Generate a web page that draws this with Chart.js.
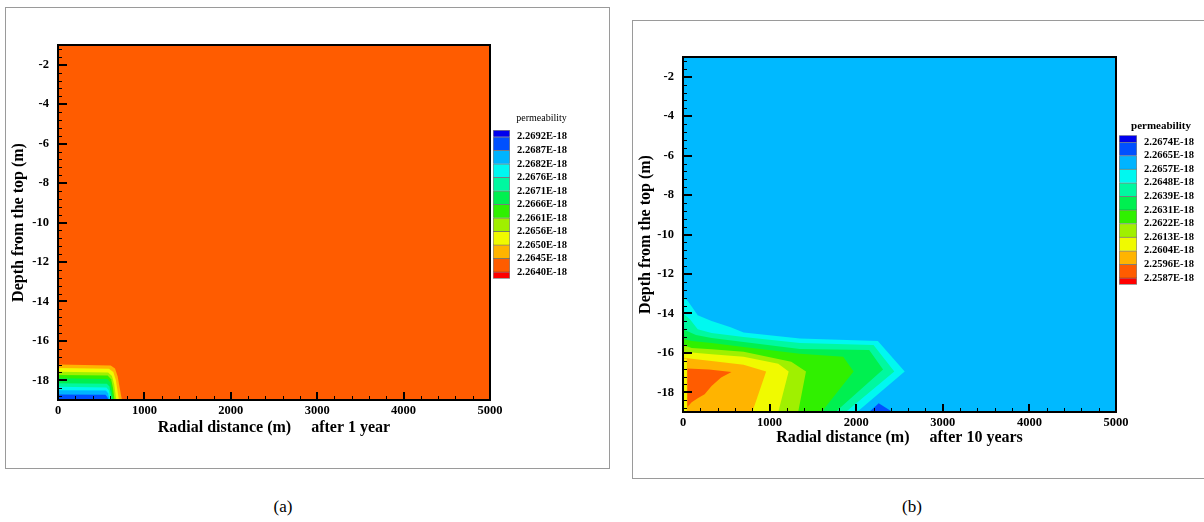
<!DOCTYPE html>
<html>
<head>
<meta charset="utf-8">
<script src="https://cdn.jsdelivr.net/npm/chart.js@4.4.1/dist/chart.umd.min.js"></script>
<style>
  body { margin: 0; width: 1204px; height: 522px; overflow: hidden; position: relative; background: #fff; font-family: "Liberation Serif", serif; }
  .box { position: absolute; border: 1px solid #9a9a9a; }
  .cv { position: absolute; }
  .cap { position: absolute; top: 497px; font-size: 17px; line-height: 20px; transform: translateX(-50%); color: #000; }
</style>
</head>
<body>
<div class="box" style="left:5px;top:7px;width:603px;height:460px"></div>
<div class="box" style="left:632px;top:20px;width:580px;height:457px"></div>
<canvas id="plotA" class="cv" width="504" height="432" style="left:6px;top:8px"></canvas>
<canvas id="barA" class="cv" width="97" height="180" style="left:493px;top:112px"></canvas>
<canvas id="plotB" class="cv" width="503" height="431" style="left:633px;top:21px"></canvas>
<canvas id="barB" class="cv" width="84" height="178" style="left:1119px;top:120px"></canvas>
<div class="cap" style="left:283px">(a)</div>
<div class="cap" style="left:912px">(b)</div>
<script>
// axes
const xRange = [0, 5000];
const yRange = [-19, -1];
const xTicks = [0, 1000, 2000, 3000, 4000, 5000];
const yTicks = [-2, -4, -6, -8, -10, -12, -14, -16, -18];

// colour legend (top to bottom)
const levelsA = ["2.2692E-18", "2.2687E-18", "2.2682E-18", "2.2676E-18", "2.2671E-18", "2.2666E-18",
                 "2.2661E-18", "2.2656E-18", "2.2650E-18", "2.2645E-18", "2.2640E-18"];
const levelsB = ["2.2674E-18", "2.2665E-18", "2.2657E-18", "2.2648E-18", "2.2639E-18", "2.2631E-18",
                 "2.2622E-18", "2.2613E-18", "2.2604E-18", "2.2596E-18", "2.2587E-18"];
const palette = ["#0000EE", "#0050FF", "#00B4FF", "#00F8F0", "#00F8A0", "#00F050",
                 "#30F000", "#A0F000", "#F0FA00", "#FFB400", "#FF5C00", "#FF0000"];

// contour regions, [radial distance, depth]
// (a) after 1 year
const regionA0 = [[0, -1], [5000, -1], [5000, -19], [0, -19]];
const regionA1 = [[0, -19], [0, -17.2], [610, -17.25], [660, -17.4], [690, -17.8], [740, -19]];
const regionA2 = [[0, -19], [0, -17.38], [590, -17.42], [640, -17.58], [670, -18.0], [705, -19]];
const regionA3 = [[0, -19], [0, -17.57], [580, -17.6], [625, -17.78], [650, -18.2], [675, -19]];
const regionA4 = [[0, -19], [0, -17.73], [575, -17.76], [615, -17.95], [635, -18.35], [655, -19]];
const regionA5 = [[0, -19], [0, -17.9], [570, -17.93], [605, -18.1], [622, -18.5], [638, -19]];
const regionA6 = [[0, -19], [0, -18.15], [565, -18.18], [595, -18.32], [610, -18.65], [622, -19]];
const regionA7 = [[0, -19], [0, -18.33], [560, -18.36], [588, -18.5], [600, -18.8], [610, -19]];
const regionA8 = [[0, -19], [0, -18.5], [555, -18.52], [580, -18.66], [598, -19]];
const regionA9 = [[0, -19], [0, -18.72], [550, -18.74], [570, -18.85], [585, -19]];
const regionsA = [regionA0, regionA1, regionA2, regionA3, regionA4, regionA5, regionA6, regionA7, regionA8, regionA9];
const colorsA = ["#FF5C00", "#FFB400", "#F0FA00", "#A0F000", "#30F000", "#00F050", "#00F8A0", "#00F8F0", "#00B4FF", "#0050FF"];

// (b) after 10 years
const regionB0 = [[0, -1], [5000, -1], [5000, -19], [0, -19]];
const regionB1 = [[0, -19], [2010, -19], [2560, -16.95], [2250, -15.4], [1350, -15.27], [700, -14.97], [550, -14.7],
                  [330, -14.38], [170, -14.1], [60, -13.4], [0, -13.1]];
const regionB2 = [[0, -19], [1880, -19], [2440, -16.95], [2200, -15.6], [1350, -15.5], [700, -15.2], [330, -15.0],
                  [170, -14.8], [80, -14.3], [0, -14.0]];
const regionB3 = [[0, -19], [1760, -19], [2310, -16.85], [2150, -15.85], [1350, -15.8], [700, -15.45], [330, -15.25],
                  [150, -15.1], [0, -14.8]];
const regionB4 = [[0, -19], [1600, -19], [1970, -16.95], [1850, -16.2], [1350, -16.05], [700, -15.7], [330, -15.5],
                  [100, -15.4], [0, -15.3]];
const regionB5 = [[0, -19], [1330, -19], [1420, -16.95], [1250, -16.45], [700, -15.95], [330, -15.82], [100, -15.75], [0, -15.6]];
const regionB6 = [[0, -19], [1100, -19], [1220, -16.95], [1100, -16.55], [700, -16.2], [330, -16.07], [0, -15.95]];
const regionB7 = [[0, -19], [800, -19], [960, -16.95], [700, -16.6], [330, -16.41], [100, -16.3], [0, -16.25]];
const regionB8 = [[0, -19], [45, -19], [45, -16.3], [0, -16.3]];
const regionB9 = [[50, -18.75], [100, -18.5], [170, -18.3], [250, -18.1], [330, -17.68], [440, -17.25], [560, -16.97],
                  [300, -16.85], [50, -16.8]];
const regionB10 = [[2150, -19], [2260, -18.55], [2420, -19]];
const regionsB = [regionB0, regionB1, regionB2, regionB3, regionB4, regionB5, regionB6, regionB7, regionB8, regionB9, regionB10];
const colorsB = ["#00B9FF", "#00F8F0", "#00F8A0", "#00F050", "#30F000", "#A0F000", "#F0FA00", "#FFB400", "#F0FA00", "#FF5C00", "#0050FF"];

const serif = "'Liberation Serif', 'Times New Roman', serif";
Chart.defaults.font.family = serif;
Chart.defaults.color = "#000";

// frame plus inward major/minor ticks
const frameTicks = {
  id: "frameTicks",
  afterDatasetsDraw(chart, args, opts) {
    const { ctx, chartArea: a } = chart;
    const xs = chart.scales.x;
    const ys = chart.scales.y;
    ctx.save();
    ctx.strokeStyle = "#000";

    ctx.lineWidth = 1;
    ctx.beginPath();
    for (let k = 1; k * opts.xMinor < xs.max; k++) {
      const px = Math.round(xs.getPixelForValue(k * opts.xMinor)) + 0.5;
      ctx.moveTo(px, a.bottom);
      ctx.lineTo(px, a.bottom - 4);
    }
    for (let k = -10; k <= 60; k++) {
      const v = yTicks[0] - k * opts.yMinor;
      if (v <= ys.min + 1e-6 || v >= ys.max - 1e-6) continue;
      const py = Math.round(ys.getPixelForValue(v)) + 0.5;
      ctx.moveTo(a.left, py);
      ctx.lineTo(a.left + 4, py);
    }
    ctx.stroke();

    ctx.lineWidth = 2;
    ctx.beginPath();
    xTicks.forEach((v) => {
      if (v <= xs.min || v >= xs.max) return;
      const px = Math.round(xs.getPixelForValue(v));
      ctx.moveTo(px, a.bottom);
      ctx.lineTo(px, a.bottom - 8);
    });
    yTicks.forEach((v) => {
      const py = Math.round(ys.getPixelForValue(v));
      ctx.moveTo(a.left, py);
      ctx.lineTo(a.left + 9, py);
    });
    ctx.stroke();

    ctx.strokeRect(a.left, a.top, a.right - a.left, a.bottom - a.top);
    ctx.restore();
  }
};

function regionDatasets(regions, colors) {
  return regions.map((pts, i) => ({
    data: pts.map((p) => ({ x: p[0], y: p[1] })),
    backgroundColor: colors[i],
    borderWidth: 0,
    pointRadius: 0,
    fill: "shape",
    order: regions.length - i
  }));
}

function crearPanel(id, regions, colors, xTitle, yAxisWidth, padTop, xTitlePad) {
  const tickFont = { family: serif, size: 12.5, weight: "bold" };
  return new Chart(document.getElementById(id), {
    type: "line",
    data: { datasets: regionDatasets(regions, colors) },
    options: {
      responsive: false,
      animation: false,
      events: [],
      layout: { padding: { left: 0, top: padTop, right: 20, bottom: 0 } },
      plugins: {
        legend: { display: false },
        tooltip: { enabled: false },
        frameTicks: { xMinor: 200, yMinor: 0.4 }
      },
      scales: {
        x: {
          type: "linear",
          min: xRange[0],
          max: xRange[1],
          afterBuildTicks: (s) => { s.ticks = xTicks.map((v) => ({ value: v })); },
          afterFit: (s) => { s.height = 40; },
          grid: { display: false, drawTicks: false },
          border: { display: false },
          ticks: { padding: 3, font: tickFont, maxRotation: 0, autoSkip: false, callback: (v) => String(v) },
          title: {
            display: true,
            text: xTitle,
            font: { family: serif, size: 16, weight: "bold" },
            padding: { top: 0, bottom: xTitlePad }
          }
        },
        y: {
          type: "linear",
          min: yRange[0],
          max: yRange[1],
          afterBuildTicks: (s) => { s.ticks = yTicks.map((v) => ({ value: v })); },
          afterFit: (s) => { s.width = yAxisWidth; },
          grid: { display: false, drawTicks: false },
          border: { display: false },
          ticks: { padding: 9, font: tickFont, autoSkip: false, callback: (v) => String(v) },
          title: {
            display: true,
            text: "Depth from the top (m)",
            font: { family: serif, size: 16, weight: "bold" },
            padding: { top: 3, bottom: 0 }
          }
        }
      }
    },
    plugins: [frameTicks]
  });
}

function crearLeyenda(id, levels, titleFont, titlePad, axisWidth) {
  const n = levels.length;
  // half-height swatches at both ends so the labels sit on the boundaries
  const span = palette.map((_, i) => (i === 0 || i === palette.length - 1 ? 0.5 : 1));
  const bottomUp = palette.slice().reverse();
  return new Chart(document.getElementById(id), {
    type: "bar",
    data: {
      labels: [""],
      datasets: bottomUp.map((c, i) => ({
        data: [span[i]],
        backgroundColor: c,
        borderColor: "rgba(50,50,50,0.6)",
        borderWidth: { top: 1, left: 1, right: 1, bottom: i === 0 ? 1 : 0 },
        borderSkipped: false,
        barPercentage: 1,
        categoryPercentage: 1
      }))
    },
    options: {
      responsive: false,
      animation: false,
      events: [],
      layout: { padding: { left: 0, right: 0, top: 0, bottom: 10 } },
      plugins: {
        legend: { display: false },
        tooltip: { enabled: false },
        title: { display: true, text: "permeability", font: titleFont, padding: { top: 0, bottom: titlePad } }
      },
      scales: {
        x: { display: false, stacked: true },
        y: {
          stacked: true,
          position: "right",
          min: 0,
          max: n,
          afterBuildTicks: (s) => { s.ticks = levels.map((_, i) => ({ value: n - 0.5 - i })); },
          afterFit: (s) => { s.width = axisWidth; },
          grid: { display: false, drawTicks: false },
          border: { display: false },
          ticks: {
            padding: 7,
            autoSkip: false,
            font: { family: serif, size: 10.5, weight: "bold" },
            callback: (v) => levels[Math.round(n - 0.5 - v)]
          }
        }
      }
    }
  });
}

crearPanel("plotA", regionsA, colorsA, "Radial distance (m)     after 1 year", 52, 37, 3);
crearPanel("plotB", regionsB, colorsB, "Radial distance (m)     after 10 years", 50, 36, 5);
crearLeyenda("barA", levelsA, { family: serif, size: 10, weight: "normal" }, 6, 80);
crearLeyenda("barB", levelsB, { family: serif, size: 11, weight: "bold" }, 2, 66);
</script>
</body>
</html>
